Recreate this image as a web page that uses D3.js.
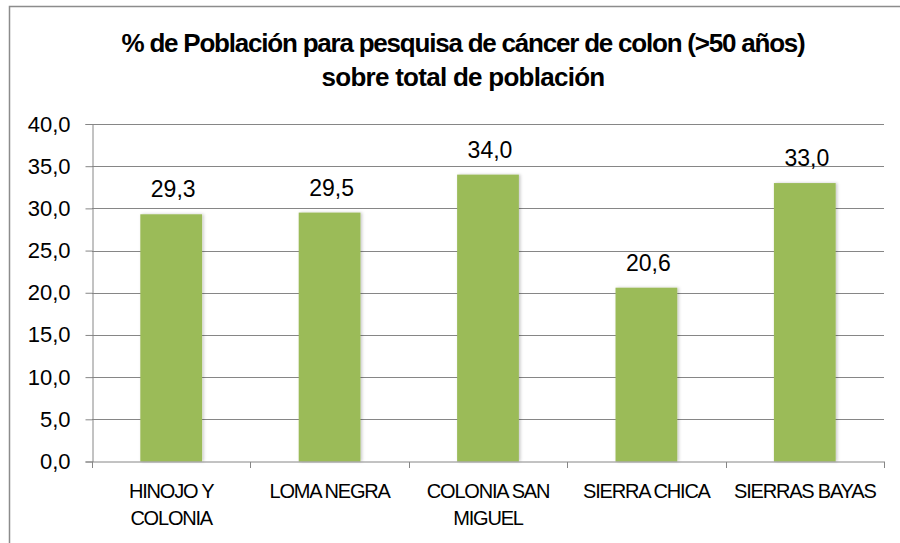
<!DOCTYPE html>
<html>
<head>
<meta charset="utf-8">
<script src="https://cdn.jsdelivr.net/npm/d3@7"></script>
<style>
  body { margin: 0; background: #fff; }
  svg { display: block; font-family: "Liberation Sans", Arial, sans-serif; }
</style>
</head>
<body>
<svg id="chart" width="900" height="543"></svg>
<script>
// chart data
const categories = [
  ['HINOJO Y', 'COLONIA'],
  ['LOMA NEGRA'],
  ['COLONIA SAN', 'MIGUEL'],
  ['SIERRA CHICA'],
  ['SIERRAS BAYAS']
]
const values = [29.3, 29.5, 34.0, 20.6, 33.0]
const yTicks = [0, 5, 10, 15, 20, 25, 30, 35, 40]
const titleLines = [
  '% de Población para pesquisa de cáncer de colon (>50 años)',
  'sobre total de población'
]

const svg = d3.select('#chart')
const locale = d3.formatLocale({ decimal: ',', thousands: '.', grouping: [3], currency: ['', ''] })
const fmt = locale.format('.1f')

// outer frame
svg.append('rect')
  .attr('x', 9.5).attr('y', 6.5)
  .attr('width', 900).attr('height', 600)
  .attr('fill', 'none')
  .attr('stroke', '#8c8c8c')
  .attr('stroke-width', 1.5)

// title, tight spacing like the original
const titleWidths = [683, 283]
svg.selectAll('text.title')
  .data(titleLines)
  .join('text')
  .attr('class', 'title')
  .attr('x', 463)
  .attr('y', (d, i) => 52 + i * 34)
  .attr('text-anchor', 'middle')
  .attr('font-size', 26)
  .attr('font-weight', 'bold')
  .text(d => d)
  .each(function (d, i) {
    const natural = this.getComputedTextLength()
    const ls = (titleWidths[i] - natural) / d.length
    d3.select(this).attr('letter-spacing', ls + 'px')
  })

const plot = { left: 92, right: 884, top: 124, bottom: 461.5 }

const x = d3.scaleBand()
  .domain(d3.range(values.length))
  .range([plot.left, plot.right])
  .padding(0)

const y = d3.scaleLinear()
  .domain([0, 40])
  .range([plot.bottom, plot.top])

// shadow for bars
const defs = svg.append('defs')
const f = defs.append('filter').attr('id', 'shadow')
  .attr('x', '-20%').attr('y', '-5%').attr('width', '140%').attr('height', '110%')
f.append('feDropShadow')
  .attr('dx', 1.5).attr('dy', 0)
  .attr('stdDeviation', 1.8)
  .attr('flood-color', '#000')
  .attr('flood-opacity', 0.22)

// gridlines
svg.append('g')
  .selectAll('line')
  .data(yTicks.filter(d => d > 0))
  .join('line')
  .attr('x1', plot.left).attr('x2', plot.right)
  .attr('y1', d => Math.round(y(d)) + 0.5)
  .attr('y2', d => Math.round(y(d)) + 0.5)
  .attr('stroke', '#868686')
  .attr('stroke-width', 1)

// y axis
const yAxis = svg.append('g')
  .attr('transform', `translate(${plot.left + 0.5},0)`)
  .call(d3.axisLeft(y).tickValues(yTicks).tickSize(7).tickPadding(15).tickFormat(fmt))
yAxis.select('.domain').attr('stroke', '#868686')
yAxis.selectAll('.tick line').attr('stroke', '#868686')
yAxis.selectAll('.tick text')
  .attr('font-size', 22)
  .attr('fill', '#000')
  .attr('font-family', '"Liberation Sans", Arial, sans-serif')

// bars
const barW = x.bandwidth() * 0.39
svg.append('g')
  .selectAll('rect')
  .data(values)
  .join('rect')
  .attr('x', (d, i) => x(i) + (x.bandwidth() - barW) / 2)
  .attr('y', d => y(d))
  .attr('width', barW)
  .attr('height', d => y(0) - y(d))
  .attr('fill', '#9bbb59')
  .attr('filter', 'url(#shadow)')

// value labels
svg.append('g')
  .selectAll('text')
  .data(values)
  .join('text')
  .attr('x', (d, i) => x(i) + x.bandwidth() / 2 + 2)
  .attr('y', d => y(d) - 17)
  .attr('text-anchor', 'middle')
  .attr('font-size', 23)
  .text(d => fmt(d))

// x axis
const xAxis = svg.append('g')
  .attr('transform', `translate(0,${plot.bottom + 0.5})`)
xAxis.append('line')
  .attr('x1', plot.left).attr('x2', plot.right + 1)
  .attr('stroke', '#868686')
xAxis.selectAll('line.tick')
  .data(d3.range(values.length + 1))
  .join('line')
  .attr('class', 'tick')
  .attr('x1', i => Math.round(plot.left + i * x.step()) + 0.5)
  .attr('x2', i => Math.round(plot.left + i * x.step()) + 0.5)
  .attr('y1', 0).attr('y2', 6)
  .attr('stroke', '#868686')

// category labels
const catG = svg.append('g')
catG.selectAll('text')
  .data(categories)
  .join('text')
  .attr('x', (d, i) => x(i) + x.bandwidth() / 2)
  .attr('text-anchor', 'middle')
  .attr('font-size', 20)
  .attr('letter-spacing', '-1.2px')
  .selectAll('tspan')
  .data(d => d)
  .join('tspan')
  .attr('x', function () { return this.parentNode.getAttribute('x') })
  .attr('y', (d, i) => 498 + i * 27)
  .text(d => d)
</script>
</body>
</html>
